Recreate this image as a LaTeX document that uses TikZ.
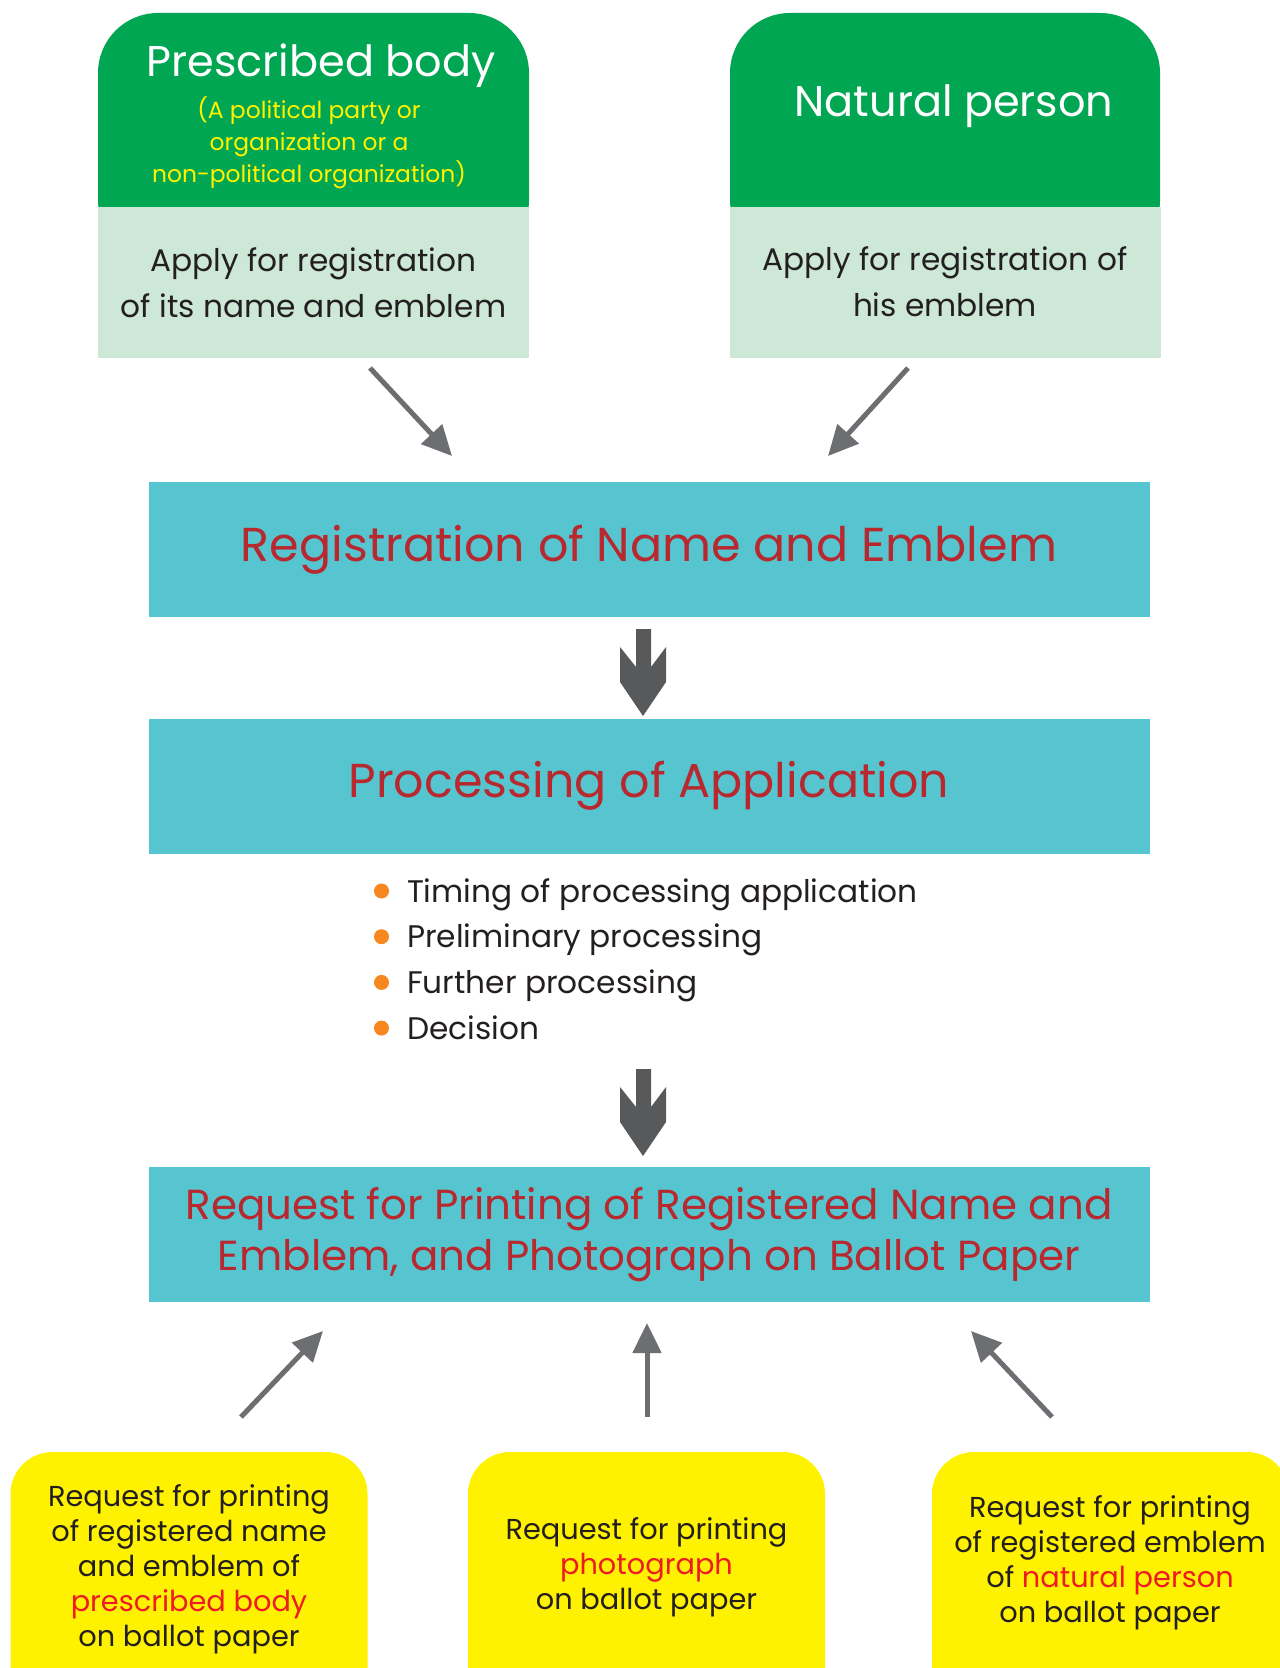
\documentclass[tikz,border=0pt]{standalone}
\usepackage{fontspec}
\setmainfont{Poppins}
\usetikzlibrary{positioning, arrows.meta}
\definecolor{bodygreen}{HTML}{00A651}
\definecolor{palegreen}{HTML}{CDE8D6}
\definecolor{stagecyan}{HTML}{56C5D0}
\definecolor{stagered}{HTML}{B8292F}
\definecolor{notered}{HTML}{ED1C24}
\definecolor{reqyellow}{HTML}{FFF200}
\definecolor{arrowgray}{HTML}{6D6E71}
\definecolor{blockgray}{HTML}{58595B}
\definecolor{dotorange}{HTML}{F7881F}
\definecolor{inkblack}{HTML}{231F20}

\tikzset{
  applybox/.style={fill=palegreen, minimum width=215.5pt, minimum height=75.5pt, inner sep=0pt},
  headtext/.style={text=white, font=\fontsize{21.5}{25}\selectfont},
  notetext/.style={text=reqyellow, align=center, font=\fontsize{11.7}{16}\selectfont},
  applytext/.style={text=inkblack, align=center, font=\fontsize{15.6}{23}\selectfont},
  stage/.style={fill=stagecyan, minimum width=500.5pt, minimum height=67.5pt, inner sep=0pt,
    text=stagered, align=center},
  thinarrow/.style={draw=arrowgray, line width=2.5pt, -{Triangle[length=15pt,width=14pt]}},
  reqbox/.style={fill=reqyellow, rounded corners=21pt, minimum width=178.5pt, minimum height=154pt},
  reqtext/.style={text=inkblack, align=center, font=\fontsize{14.4}{17.5}\selectfont},
  itemdot/.style={circle, fill=dotorange, minimum size=7.5pt, inner sep=0pt},
  itemtext/.style={text=inkblack, anchor=base west, font=\fontsize{15.6}{17}\selectfont},
  downarrow/.pic={\fill[blockgray] (-7,0) -- (8,0) -- (8,38) -- (23,18) -- (23,53) -- (0,87)
    -- (-23,53) -- (-23,18) -- (-7,38) -- cycle;}
}

\begin{document}
\begin{tikzpicture}[x=0.5pt, y=-0.5pt]
  \useasboundingbox (0,0) rectangle (1279,1668);

  % who applies
  \fill[bodygreen, rounded corners=30pt] (98,13) rectangle (529,260);
  \fill[bodygreen, rounded corners=30pt] (730,13) rectangle (1160,260);
  \node[applybox] (bodyapply) at (313.5,282.5) {};
  \node[applybox] (personapply) at (945,282.5) {};
  \node[headtext] (body) at (321,66) {Prescribed body};
  \node[notetext] (bodynote) at (309,143) {(A political party or\\organization or a\\non-political organization)};
  \node[headtext] (person) at (954,106) {Natural person};
  \node[applytext] at (bodyapply) {Apply for registration\\of its name and emblem};
  \node[applytext] at (945,282) {Apply for registration of\\his emblem};

  % stages
  \node[stage, font=\fontsize{23.8}{28}\selectfont] (register) at (649,549.5) {Registration of Name and Emblem};
  \node[stage, font=\fontsize{23.8}{28}\selectfont] (process) at (649,786) {Processing of Application};
  \node[stage, font=\fontsize{21}{25.5}\selectfont] (printing) at (649,1234.5)
    {Request for Printing of Registered Name and\\Emblem, and Photograph on Ballot Paper};

  \coordinate (bodyout) at (370,368);
  \coordinate (bodyin) at (452,456);
  \coordinate (personout) at (908,368);
  \coordinate (personin) at (828,456);
  \draw[thinarrow] (bodyout) -- (bodyin);
  \draw[thinarrow] (personout) -- (personin);

  \pic at (643,629) {downarrow};
  \pic at (643,1069) {downarrow};

  \foreach \step [count=\i] in {Timing of processing application, Preliminary processing,
      Further processing, Decision} {
    \node[itemdot] (dot\i) at (381.5,{891+45.7*(\i-1)}) {};
    \node[itemtext] (item\i) at (400,{902+45.7*(\i-1)}) {\step};
  }

  % requests
  \node[reqbox] (reqbody) at (189,1606) {};
  \node[reqbox] (reqphoto) at (646.5,1606) {};
  \node[reqbox] (reqperson) at (1110.5,1606) {};
  \node[reqtext] at (189,1569.5) {Request for printing\\of registered name\\and emblem of\\
    \textcolor{notered}{prescribed body}\\on ballot paper};
  \node[reqtext] at (646.5,1567) {Request for printing\\\textcolor{notered}{photograph}\\on ballot paper};
  \node[reqtext] at (1110,1562.5) {Request for printing\\of registered emblem\\
    of \textcolor{notered}{natural person}\\on ballot paper};

  \coordinate (bodyup) at (241,1417);
  \coordinate (bodytop) at (323,1331);
  \coordinate (photoup) at (647,1417);
  \coordinate (phototop) at (647,1323);
  \coordinate (personup) at (1052,1417);
  \coordinate (persontop) at (971,1331);
  \draw[thinarrow] (bodyup) -- (bodytop);
  \draw[thinarrow] (photoup) -- (phototop);
  \draw[thinarrow] (personup) -- (persontop);
\end{tikzpicture}
\end{document}
